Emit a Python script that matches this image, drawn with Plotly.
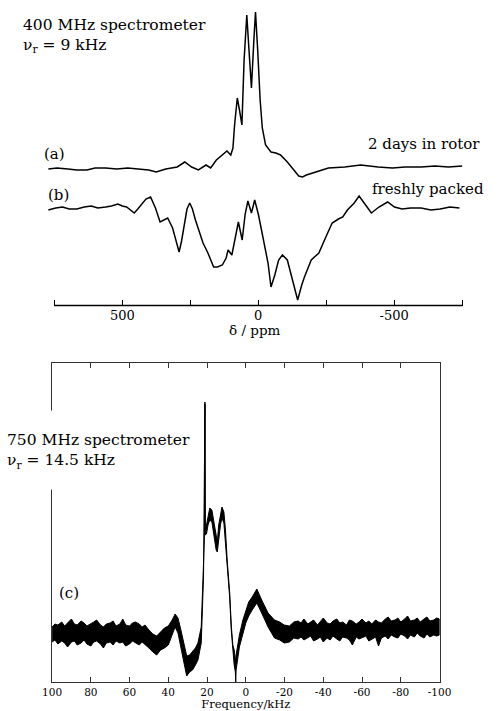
import plotly.graph_objects as go

# ---------------- data (top panel, 400 MHz) ----------------
a_ppm = [772, 740, 700, 667, 630, 600, 561, 520, 480, 445, 403, 375, 340, 298, 270, 245, 220, 192, 175,
         154, 132, 115, 101, 93, 87, 77, 69, 60, 52, 42, 34, 25, 16, 10, 2, -7, -15, -27, -47, -65,
         -82, -107, -131, -149, -163, -177, -212, -258, -318, -377, -441, -494, -540, -599, -650, -700, -750]
a_int = [0, 1, 0, -1, -1, 1, 1, 0, 1, 0, -1, -3, 0, 2, 7, 2, -1, 4, 1,
         9, 14, 18, 14, 21, 44, 71, 59, 44, 109, 154, 119, 81, 129, 157, 119, 69, 41, 24, 17, 16,
         14, 7, -1, -7, -8, -6, -3, 1, 2, 4, 2, 1, 2, 2, 3, 2, 3]

b_ppm = [772, 745, 720, 695, 667, 640, 614, 590, 561, 540, 516, 500, 484, 470, 456, 443, 431, 413, 396,
         385, 378, 361, 345, 333, 315, 291, 282, 273, 262, 252, 242, 231, 215, 203, 185, 164, 150,
         132, 118, 111, 97, 87, 73, 59, 48, 38, 25, 13, -1, -12, -26, -36, -47, -61, -75, -89, -107,
         -124, -145, -160, -170, -195, -223, -247, -272, -295, -311, -328, -353, -371, -383, -395,
         -416, -444, -476, -501, -529, -560, -599, -635, -669, -705, -740]
b_int = [-1, 1, 2, 0, 0, 2, 3, 1, 2, 3, 5, 3, 2, -1, -4, 0, 4, 10, 12,
         6, 1, -13, -11, -9, -19, -43, -32, -16, 0, 6, 0, -11, -25, -34, -44, -58, -58,
         -56, -49, -41, -46, -31, -13, -31, -5, 8, -4, 9, -6, -21, -41, -54, -78, -66, -51, -46, -51,
         -69, -91, -76, -68, -51, -44, -29, -14, -10, -8, -1, 6, 13, 8, 4,
         -4, 2, 7, 2, 0, 1, 1, -1, 0, 2, 1]

a_offset = 136.5
b_offset = 96.5

top_tickvals = [500, 0, -500]
top_ticktext = ["500", "0", "-500"]
top_minor_step = 250

# ---------------- data (bottom panel, 750 MHz): upper / lower edge of the noisy trace ----------------
c_khz = [100, 98.5, 97, 95, 93.5, 92, 90, 88.5, 87, 85, 83.5, 82, 80, 78.5, 77, 75, 73.5, 72, 70, 68.5,
         67, 65, 63.5, 62, 60, 58.5, 57, 55, 53.5, 52,
         50, 48, 46, 44, 42, 40, 38, 36.5, 35, 33.5, 32, 30.5, 29, 27.5, 26, 24.7, 23.5, 23, 22.4, 21.8,
         21.4, 21.1, 20.9, 20.3, 19.5, 18.6, 17.5, 16.3, 15.3, 14.7, 14.0, 13.0, 12.3, 11.3, 10.5, 9.6,
         8.3, 7.5, 6.7, 6.0, 5.4, 5.2, 5.0, 3.3, 1.5, 0.0, -1.5, -3.3, -5.7, -8.2, -11.5, -14.8, -17.5,
         -19.8, -22.5, -24.8,
         -27, -28.5, -30, -32, -33.5, -35, -37, -38.5, -40, -42, -43.5, -45, -47, -48.5, -50, -52, -53.5,
         -55, -57, -58.5, -60, -62, -63.5, -65, -67, -68.5, -70, -72, -73.5, -75, -77, -78.5, -80, -82,
         -83.5, -85, -87, -88.5, -90, -92, -93.5, -95, -97, -98.5, -100]
c_hi = [6, 9, 8, 11, 7, 10, 14, 9, 8, 12, 10, 7, 9, 11, 13, 8, 6, 9, 10, 12,
        7, 9, 14, 8, 7, 10, 11, 9, 6, 8,
        3, -1, -3, 1, 5, 7, 13, 19, 15, 3, -10, -23, -22, -19, -15, -10, 1, 6, 38, 73,
        93, 231, 103, 108, 118, 125, 123, 108, 95, 91, 108, 121, 126, 121, 103, 73,
        40, 8, -12, -17, -25, -29, -22, -2, 13, 23, 31, 36, 44, 33, 20, 13, 11,
        8, 7, 11,
        12, 10, 14, 9, 11, 13, 8, 12, 15, 10, 9, 12, 14, 10, 11, 8, 13,
        12, 9, 11, 14, 10, 12, 9, 13, 11, 10, 14, 16, 12, 13, 15, 11, 14,
        17, 12, 13, 15, 11, 14, 16, 12, 13, 15, 14]
c_lo = [-9, -7, -11, -8, -10, -14, -9, -8, -12, -10, -7, -11, -13, -9, -8, -11, -15, -10, -9, -12,
        -8, -10, -9, -13, -11, -8, -10, -12, -9, -11,
        -15, -19, -22, -17, -15, -12, -2, 6, 0, -15, -29, -43, -39, -37, -32, -27, -15, -10, 23, 58,
        88, 229, 98, 99, 108, 113, 111, 95, 83, 81, 93, 109, 115, 110, 93, 66,
        35, 3, -17, -32, -39, -49, -37, -14, -2, 10, 17, 23, 30, 20, 6, -5, -7,
        -10, -9, -5,
        -6, -4, -7, -5, -3, -8, -6, -4, -9, -5, -7, -3, -6, -8, -4, -5, -7,
        -12, -4, -6, -5, -3, -8, -6, -4, -13, -5, -3, -6, -2, -4, -5, -1, -3,
        -6, -2, -4, 0, -3, -5, -1, -4, -2, -3, -2]

bot_tickvals = [100, 80, 60, 40, 20, 0, -20, -40, -60, -80, -100]
bot_ticktext = ["100", "80", "60", "40", "20", "0", "-20", "-40", "-60", "-80", "-100"]

SERIF = "DejaVu Serif"
INK = "black"

fig = go.Figure()

fig.add_trace(go.Scatter(x=a_ppm, y=[v + a_offset for v in a_int], mode="lines",
                         line=dict(color=INK, width=1.5), xaxis="x", yaxis="y", hoverinfo="skip"))
fig.add_trace(go.Scatter(x=b_ppm, y=[v + b_offset for v in b_int], mode="lines",
                         line=dict(color=INK, width=1.5), xaxis="x", yaxis="y", hoverinfo="skip"))

poly_x = c_khz + c_khz[::-1]
poly_y = c_hi + c_lo[::-1]
fig.add_trace(go.Scatter(x=poly_x, y=poly_y, mode="lines", fill="toself", fillcolor=INK,
                         line=dict(color=INK, width=1), xaxis="x2", yaxis="y2", hoverinfo="skip"))

top_ydom = [(711 - 305.5) / 711, 1.0]
bot_ydom = [29 / 711, 348 / 711]

fig.update_layout(
    width=500, height=711, margin=dict(l=0, r=0, t=0, b=0),
    paper_bgcolor="white", plot_bgcolor="white", showlegend=False,
    font=dict(family=SERIF, color=INK),
    xaxis=dict(domain=[36 / 500, 476 / 500], range=[786.4, -760.7], anchor="y",
               tickmode="array", tickvals=top_tickvals, ticktext=top_ticktext,
               ticks="inside", ticklen=6, tickwidth=1.2, tickcolor=INK,
               minor=dict(dtick=top_minor_step, tick0=0, ticks="inside", ticklen=6,
                          tickwidth=1.2, tickcolor=INK, showgrid=False),
               showline=False, showgrid=False, zeroline=False,
               tickfont=dict(family=SERIF, size=13, color=INK),
               title=dict(text="δ / ppm", font=dict(family=SERIF, size=13.5, color=INK), standoff=0)),
    yaxis=dict(domain=top_ydom, range=[0, 305.5], visible=False, fixedrange=True),
    xaxis2=dict(domain=[44 / 500, 449.3 / 500], range=[100, -100], anchor="y2",
                tickmode="array", tickvals=bot_tickvals, ticktext=bot_ticktext,
                ticks="inside", ticklen=5, tickwidth=1, tickcolor="#333",
                showline=True, linecolor="#333", linewidth=1, mirror="ticks",
                showgrid=False, zeroline=False,
                tickfont=dict(family=SERIF, size=10.5, color=INK),
                title=dict(text="Frequency/kHz", font=dict(family=SERIF, size=11.5, color=INK), standoff=0)),
    yaxis2=dict(domain=bot_ydom, range=[-49, 270], anchor="x2",
                showline=True, linecolor="#333", linewidth=1, mirror=True,
                ticks="", showticklabels=False, showgrid=False, zeroline=False),
)

# baseline of the top axis (spans from the first to the last minor tick)
fig.add_shape(type="line", xref="x", yref="paper", x0=3 * top_minor_step, x1=-3 * top_minor_step,
              y0=top_ydom[0], y1=top_ydom[0], line=dict(color=INK, width=1.3))

def ann(text, x, y, xanchor="left", yanchor="middle", size=15, **kw):
    fig.add_annotation(text=text, x=x, y=y, xref="paper", yref="paper", xanchor=xanchor,
                       yanchor=yanchor, showarrow=False, align="left",
                       font=dict(family=SERIF, size=size, color=INK), **kw)

ann("400 MHz spectrometer<br>ν<sub>r</sub> = 9 kHz", 12 / 500, (711 - 14) / 711, yanchor="top", size=15.5)
ann("(a)", 47 / 500, (711 - 154) / 711, xanchor="center")
ann("(b)", 51 / 500, (711 - 195) / 711, xanchor="center")
ann("2 days in rotor", 494 / 500, (711 - 144) / 711, xanchor="right")
ann("freshly packed", 498 / 500, (711 - 189) / 711, xanchor="right")
ann("&#160;<br>750 MHz spectrometer<br>ν<sub>r</sub> = 14.5 kHz<br>&#160;", -4 / 500, (711 - 450) / 711,
    bgcolor="white", borderpad=0, size=15.5)
ann("(c)", 62 / 500, (711 - 593) / 711, xanchor="center")

fig.write_html("out.html")
